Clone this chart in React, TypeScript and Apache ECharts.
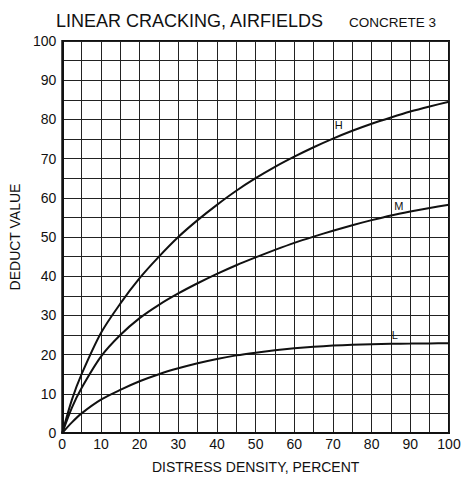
import React, { useEffect, useRef } from "react";
import * as echarts from "echarts";

const density = [0, 2.5, 5, 10, 15, 20, 25, 30, 35, 40, 45, 50, 55, 60, 65, 70, 75, 80, 85, 90, 95, 100];
const highValues = [0, 8.5, 15, 25.5, 33, 39.5, 45, 50, 54.3, 58.2, 61.8, 65, 67.9, 70.5, 72.9, 75.1, 77.1, 78.9, 80.5, 82, 83.3, 84.5];
const mediumValues = [0, 6.5, 11.5, 19.5, 25, 29.3, 32.7, 35.6, 38.2, 40.6, 42.8, 44.8, 46.7, 48.5, 50.1, 51.6, 53, 54.3, 55.5, 56.5, 57.4, 58.2];
const lowValues = [0, 2.7, 5, 8.5, 11, 13.2, 15, 16.5, 17.8, 18.9, 19.8, 20.5, 21.1, 21.6, 22, 22.3, 22.5, 22.65, 22.75, 22.8, 22.85, 22.9];
const curveNames = ["H", "M", "L"];
const labelPositions: [number, number][] = [[71.5, 78.5], [87, 58], [86, 25]];

const FONT = "Liberation Sans";

export default function App() {
  const ref = useRef<HTMLDivElement>(null);
  useEffect(() => {
    if (!ref.current) return;
    const chart = echarts.init(ref.current, undefined, { renderer: "svg" });
    const seriesVals = [highValues, mediumValues, lowValues];
    chart.setOption({
      animation: false,
      backgroundColor: "#fff",
      title: [
        {
          text: "LINEAR CRACKING, AIRFIELDS",
          left: 51,
          top: 7,
          textStyle: { fontFamily: FONT, fontSize: 18, fontWeight: "normal", color: "#111" },
        },
        {
          text: "CONCRETE 3",
          left: 344,
          top: 10,
          textStyle: { fontFamily: FONT, fontSize: 13.5, fontWeight: "normal", color: "#111" },
        },
      ],
      grid: {
        left: 54,
        top: 41,
        width: 395,
        height: 393,
        show: true,
        borderColor: "#111",
        borderWidth: 2,
        backgroundColor: "transparent",
      },
      xAxis: {
        type: "value",
        min: 0,
        max: 100,
        interval: 5,
        name: "DISTRESS DENSITY, PERCENT",
        nameLocation: "middle",
        nameGap: 27,
        nameTextStyle: { fontFamily: FONT, fontSize: 14, color: "#111" },
        axisLine: { show: true, lineStyle: { color: "#111", width: 2 } },
        axisTick: { show: false },
        axisLabel: {
          fontFamily: FONT,
          fontSize: 14,
          color: "#111",
          margin: 4,
          showMinLabel: true,
          showMaxLabel: true,
          formatter: (v: number) => (v % 10 === 0 ? String(v) : ""),
        },
        splitLine: { show: true, lineStyle: { color: "#222", width: 1 } },
      },
      yAxis: {
        type: "value",
        min: 0,
        max: 100,
        interval: 5,
        name: "DEDUCT VALUE",
        nameLocation: "middle",
        nameGap: 40,
        nameRotate: 90,
        nameTextStyle: { fontFamily: FONT, fontSize: 14, color: "#111" },
        axisLine: { show: true, lineStyle: { color: "#111", width: 2 } },
        axisTick: { show: false },
        axisLabel: {
          fontFamily: FONT,
          fontSize: 14,
          color: "#111",
          margin: 6,
          formatter: (v: number) => (v % 10 === 0 ? String(v) : ""),
        },
        splitLine: { show: true, lineStyle: { color: "#222", width: 1 } },
      },
      series: curveNames.map((name, i) => ({
        name,
        type: "line",
        smooth: 0.3,
        symbol: "none",
        lineStyle: { color: "#111", width: 2 },
        data: density.map((d, j) => [d, seriesVals[i][j]]),
        markPoint: {
          symbol: "circle",
          symbolSize: 0,
          data: [
            {
              coord: labelPositions[i],
              label: {
                show: true,
                formatter: name,
                fontFamily: FONT,
                fontSize: 11,
                color: "#111",
                position: "inside",
              },
            },
          ],
        },
      })),
    });
    return () => chart.dispose();
  }, []);
  return (
    <div
      ref={ref}
      style={{ position: "fixed", left: 0, top: 0, width: 468, height: 479 }}
    />
  );
}
